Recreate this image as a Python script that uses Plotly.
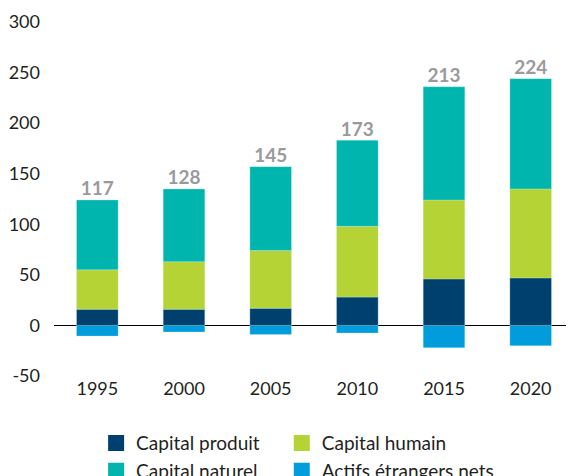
import plotly.graph_objects as go

# Donnees
annees = ['1995', '2000', '2005', '2010', '2015', '2020']
capital_produit = [16, 16, 17, 28, 46, 47]
capital_humain = [39, 47, 57, 70, 78, 88]
capital_naturel = [69, 72, 83, 85, 112, 109]
actifs_etrangers = [-10.5, -6.5, -9, -7.5, -22, -20]
totaux = [117, 128, 145, 173, 213, 224]
y_ticks = [-50, 0, 50, 100, 150, 200, 250, 300]

COL_PRODUIT = '#00406e'
COL_HUMAIN = '#b5d334'
COL_NATUREL = '#00b5ad'
COL_ETRANGERS = '#009cdc'
COL_TOTAL = '#9a9a9c'
COL_TEXTE = '#231f20'
FONT = 'Lato, sans-serif'

# (nom, valeurs, couleur, colonne de legende)
series = [
    ('Capital produit', capital_produit, COL_PRODUIT, 'legend'),
    ('Capital humain', capital_humain, COL_HUMAIN, 'legend2'),
    ('Capital naturel', capital_naturel, COL_NATUREL, 'legend'),
    ('Actifs étrangers nets', actifs_etrangers, COL_ETRANGERS, 'legend2'),
]

fig = go.Figure()

for nom, vals, col, _ in series:
    fig.add_trace(go.Bar(
        x=annees, y=vals, name=nom,
        marker=dict(color=col, line=dict(color='rgba(200,240,240,0.6)', width=0.5)),
        showlegend=False,
    ))

# totaux au-dessus des barres
sommets = [p + h + n for p, h, n in zip(capital_produit, capital_humain, capital_naturel)]
fig.add_trace(go.Scatter(
    x=annees, y=sommets, mode='text',
    text=[f'<b>{t}</b>' for t in totaux],
    textposition='top center',
    textfont=dict(family=FONT, size=19, color=COL_TOTAL),
    showlegend=False, hoverinfo='skip', cliponaxis=False,
))

# entrees de legende (carres 16px), sur des axes caches a part
for nom, vals, col, leg in series:
    fig.add_trace(go.Scatter(
        x=[None], y=[None], mode='markers', name=nom,
        marker=dict(symbol='square', size=16, color=col),
        xaxis='x2', yaxis='y2', legend=leg,
    ))

leg_style = dict(
    orientation='v', yanchor='top', xanchor='left', y=-0.136,
    font=dict(family=FONT, size=19, color=COL_TEXTE),
    bgcolor='rgba(0,0,0,0)', traceorder='normal',
)

# la page ajoute 8px de marge autour de la figure
fig.update_layout(
    barmode='relative',
    bargap=0.52,
    width=574, height=476,
    margin=dict(l=46, r=8, t=14, b=108, autoexpand=False),
    paper_bgcolor='white',
    plot_bgcolor='white',
    font=dict(family=FONT, size=18, color=COL_TEXTE),
    legend=dict(x=0.081, **leg_style),
    legend2=dict(x=0.438, **leg_style),
    xaxis=dict(type='category', showgrid=False, showline=False, ticks='', zeroline=False),
    yaxis=dict(
        range=[-50, 300], tickvals=y_ticks, ticktext=[str(v) for v in y_ticks],
        showgrid=False, showline=False, ticks='',
        zeroline=True, zerolinecolor='#000000', zerolinewidth=1,
        ticklabelstandoff=13,
    ),
    xaxis2=dict(overlaying='x', visible=False),
    yaxis2=dict(overlaying='y', visible=False),
)

fig.write_html('out.html')
